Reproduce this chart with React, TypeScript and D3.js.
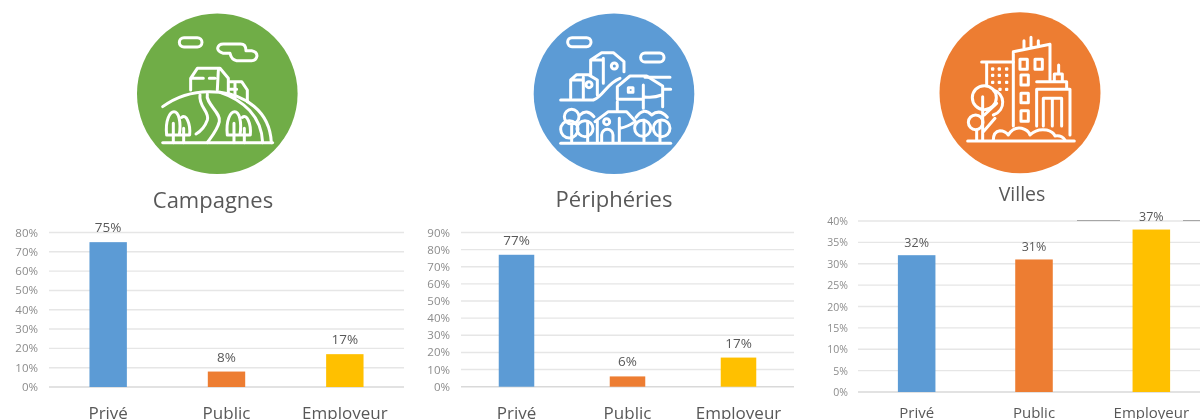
import React from "react";
import * as d3 from "d3";

const categories = ["Privé", "Public", "Employeur"];
const barColors = ["#5b9bd5", "#ed7d31", "#ffc000"];

const campagnesValues = [75, 8, 17];
const campagnesLabels = ["75%", "8%", "17%"];
const campagnesTicks = [0, 10, 20, 30, 40, 50, 60, 70, 80];

const peripheriesValues = [77, 6, 17];
const peripheriesLabels = ["77%", "6%", "17%"];
const peripheriesTicks = [0, 10, 20, 30, 40, 50, 60, 70, 80, 90];

const villesValues = [32, 31, 38];
const villesLabels = ["32%", "31%", "37%"];
const villesTicks = [0, 5, 10, 15, 20, 25, 30, 35, 40];

const FONT = "'Open Sans', 'Noto Sans', sans-serif";

type PanelProps = {
  title: string;
  titleX: number;
  titleY: number;
  titleSize: number;
  values: number[];
  labels: string[];
  ticks: number[];
  x0: number;
  x1: number;
  yTop: number;
  yBottom: number;
  barFrac: number;
  tickSize: number;
  tickGap: number;
  labelSize: number;
  labelGap: number;
  catSize: number;
  catY: number;
};

function Panel(p: PanelProps) {
  const y = d3.scaleLinear().domain([0, d3.max(p.ticks) as number]).range([p.yBottom, p.yTop]);
  const x = d3.scaleBand<string>().domain(categories).range([p.x0, p.x1]).paddingInner(1 - p.barFrac).paddingOuter((1 - p.barFrac) / 2);
  return (
    <g fontFamily={FONT}>
      <text x={p.titleX} y={p.titleY} textAnchor="middle" fontSize={p.titleSize} fill="#595959">{p.title}</text>
      {p.ticks.map((t) => (
        <g key={t}>
          <line x1={p.x0} x2={p.x1} y1={y(t)} y2={y(t)} stroke={t === 0 ? "#d9d9d9" : "#e6e6e6"} strokeWidth={1.4} />
          <text x={p.x0 - p.tickGap} y={y(t) + 4} textAnchor="end" fontSize={p.tickSize} fill="#8c8c8c">{t}%</text>
        </g>
      ))}
      {categories.map((c, i) => {
        const bx = x(c) as number;
        const cx = bx + x.bandwidth() / 2;
        return (
          <g key={c}>
            <rect x={bx} y={y(p.values[i])} width={x.bandwidth()} height={p.yBottom - y(p.values[i])} fill={barColors[i]} />
            <text x={cx} y={y(p.values[i]) - p.labelGap} textAnchor="middle" fontSize={p.labelSize} fill="#595959">{p.labels[i]}</text>
            <text x={cx} y={p.catY} textAnchor="middle" fontSize={p.catSize} fill="#595959">{c}</text>
          </g>
        );
      })}
    </g>
  );
}

function IconCampagnes() {
  return (
    <g transform="translate(120,0) scale(0.3333)" fill="none" stroke="#fff" strokeWidth={9} strokeLinecap="round" strokeLinejoin="round">
      <rect x={178} y={113} width={68} height={28} rx={14} />
      <path d="M310 132H362Q378 132 378 152H395Q411 155 411 168Q408 182 395 182H350Q335 180 330 160H310Q293 155 293 145Q295 132 310 132" />
      <path d="M212 270V235L232 205H300L325 235V280M212 235H250M268 235H285M295 212L292 270" />
      <path d="M330 245H365L382 270V305M345 250V290M330 268H350" />
      <path d="M128 320C180 282 240 270 300 277C370 285 450 330 454 428" />
      <path d="M300 277C370 300 425 350 428 428" />
      <path d="M240 285C235 320 270 335 262 360C255 380 240 395 228 402" />
      <path d="M262 282C255 310 305 340 298 365C292 390 275 410 262 428" />
      <path d="M128 428H458" />
      <path d="M140 405C135 360 150 335 162 335C176 335 184 365 178 405M185 352C198 340 212 370 209 405H140M160 370V428M191 385V428" />
      <path d="M322 405C317 360 332 335 344 335C358 335 366 365 360 405M367 352C380 340 394 370 391 405H322M342 370V428M373 385V428" />
    </g>
  );
}

function IconPeripheries() {
  return (
    <g transform="translate(520,0) scale(0.3333)" fill="none" stroke="#fff" strokeWidth={9} strokeLinecap="round" strokeLinejoin="round">
      <rect x={143} y={113} width={70} height={27} rx={13} />
      <rect x={362} y={159} width={70} height={27} rx={13} />
      <path d="M212 180L245 158H280L312 185V215M212 180V225M212 180H250M250 175V250" />
      <circle cx={283} cy={198} r={9} />
      <path d="M152 295V240L170 224H205L232 240V285M152 240H190M190 232V295" />
      <circle cx={207} cy={254} r={9} />
      <path d="M122 300H220C250 290 260 250 300 235M375 232H450M430 268H452" />
      <path d="M292 260L330 228H380L428 258V320M292 260V298H370M370 255V325M370 290Q400 295 425 285M292 305V330" />
      <rect x={325} y={263} width={14} height={14} />
      <path d="M225 365L265 335H320L345 362M232 362V425M298 355V425M245 425V405A17 17 0 0 1 279 405V425M300 385Q325 380 345 365" />
      <circle cx={260} cy={365} r={9} />
      <circle cx={155} cy={350} r={22} />
      <circle cx={148} cy={388} r={26} />
      <circle cx={195} cy={386} r={24} />
      <path d="M180 345Q200 325 222 350M155 378V425M203 368V425" />
      <circle cx={368} cy={385} r={24} />
      <circle cx={425} cy={385} r={25} />
      <path d="M348 352Q370 320 395 345Q420 325 442 352M372 360V425M420 365V425" />
      <path d="M122 430H452" />
    </g>
  );
}

function IconVilles() {
  const dots: [number, number][] = [[203, 207], [223, 207], [245, 207], [203, 226], [223, 226], [245, 226], [203, 247], [223, 247], [245, 247], [225, 268], [245, 268]];
  return (
    <g transform="translate(925,0) scale(0.3333)" fill="none" stroke="#fff" strokeWidth={9} strokeLinecap="round" strokeLinejoin="round">
      <path d="M297 122V148M318 112V140M340 122V140M265 155L375 133V240M265 155V378" />
      <rect x={285} y={178} width={22} height={30} />
      <rect x={330} y={178} width={22} height={30} />
      <rect x={288} y={225} width={22} height={30} />
      <rect x={288} y={280} width={22} height={28} />
      <rect x={288} y={332} width={22} height={32} />
      <path d="M170 186H265M185 186V255" />
      {dots.map(([a, b]) => <rect key={a + "-" + b} x={a - 2} y={b - 2} width={4} height={4} strokeWidth={6} />)}
      <path d="M335 378V268H435V405M335 245H425V265M355 378V295H410V378M382 295V378M388 245V222H412V245M401 222V195" />
      <circle cx={178} cy={293} r={36} />
      <path d="M205 270C240 280 245 330 205 345" />
      <circle cx={152} cy={367} r={22} />
      <path d="M173 290V420M155 390V420M178 345L215 310M175 395L210 355" />
      <path d="M205 420Q205 395 225 392Q240 392 250 405Q265 380 290 385Q310 390 315 405Q335 385 365 390Q385 395 390 408Q410 405 420 420" />
      <path d="M128 423H448" />
    </g>
  );
}

export default function App() {
  return (
    <svg width={1200} height={419} style={{ position: "absolute", left: 0, top: 0, background: "#fff" }}>
      <defs>
        <filter id="soft" x="0" y="0" width="100%" height="100%">
          <feGaussianBlur stdDeviation="0.4" />
        </filter>
      </defs>
      <g filter="url(#soft)">
        <circle cx={217.3} cy={93.7} r={80.3} fill="#70ad47" />
        <IconCampagnes />
        <circle cx={614} cy={93.7} r={80.3} fill="#5b9bd5" />
        <IconPeripheries />
        <circle cx={1020} cy={92.7} r={80.5} fill="#ed7d31" />
        <IconVilles />
        <Panel title="Campagnes" titleX={213} titleY={208} titleSize={22} values={campagnesValues} labels={campagnesLabels} ticks={campagnesTicks}
          x0={49} x1={404} yTop={232.5} yBottom={387} barFrac={0.316} tickSize={11.5} tickGap={11} labelSize={13.5} labelGap={10} catSize={17} catY={418.8} />
        <Panel title="Périphéries" titleX={614} titleY={207} titleSize={22} values={peripheriesValues} labels={peripheriesLabels} ticks={peripheriesTicks}
          x0={461} x1={794} yTop={232.5} yBottom={386.7} barFrac={0.32} tickSize={11.5} tickGap={11} labelSize={13.5} labelGap={10} catSize={17} catY={418.8} />
        <Panel title="Villes" titleX={1022} titleY={201} titleSize={19.5} values={villesValues} labels={villesLabels} ticks={villesTicks}
          x0={858} x1={1210} yTop={221} yBottom={392} barFrac={0.32} tickSize={10.5} tickGap={10} labelSize={12.5} labelGap={8.5} catSize={15} catY={418} />
        <path d="M1077 220.5H1120M1183 220.5H1200" stroke="#a6a6a6" strokeWidth={1} />
      </g>
    </svg>
  );
}
